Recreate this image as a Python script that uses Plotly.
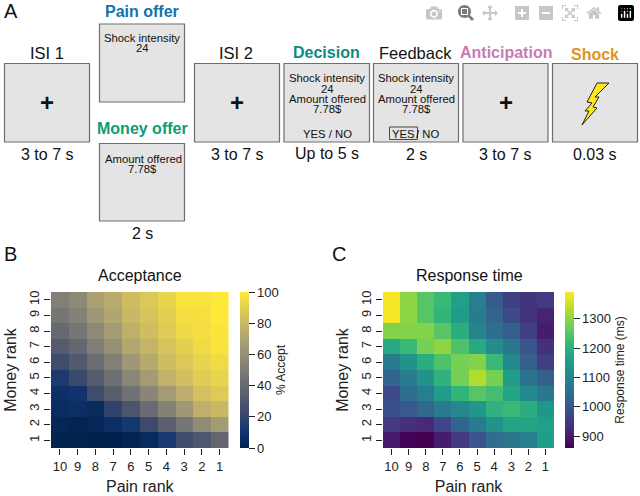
import plotly.graph_objects as go

pain_ranks = ["10", "9", "8", "7", "6", "5", "4", "3", "2", "1"]
money_ranks = ["1", "2", "3", "4", "5", "6", "7", "8", "9", "10"]
acceptance = [
    [1, 1, 0, 0, 2, 5, 13, 24, 30, 39],
    [3, 2, 3, 7, 12, 23, 35, 47, 58, 66],
    [6, 7, 5, 19, 29, 41, 53, 64, 76, 80],
    [8, 10, 24, 34, 45, 55, 66, 75, 84, 88],
    [14, 22, 33, 44, 56, 66, 77, 83, 89, 92],
    [24, 31, 42, 52, 64, 73, 82, 87, 92, 95],
    [32, 39, 51, 60, 72, 78, 85, 90, 95, 98],
    [40, 47, 57, 66, 76, 82, 88, 94, 96, 99],
    [47, 53, 64, 71, 80, 85, 90, 96, 97, 100],
    [52, 57, 68, 74, 82, 87, 92, 98, 98, 100],
]
response_time = [
    [900, 865, 860, 900, 950, 1000, 1050, 1070, 1090, 1150],
    [950, 930, 920, 970, 1030, 1080, 1130, 1170, 1170, 1160],
    [990, 1010, 1040, 1080, 1110, 1140, 1200, 1220, 1190, 1140],
    [980, 1050, 1090, 1150, 1210, 1250, 1230, 1170, 1110, 1070],
    [1030, 1080, 1130, 1200, 1280, 1330, 1280, 1150, 1060, 1020],
    [1080, 1130, 1190, 1240, 1280, 1290, 1220, 1110, 1020, 960],
    [1180, 1220, 1280, 1300, 1240, 1180, 1120, 1070, 1000, 930],
    [1290, 1290, 1290, 1250, 1190, 1100, 1050, 1020, 960, 900],
    [1385, 1300, 1250, 1210, 1150, 1080, 1030, 980, 940, 910],
    [1385, 1300, 1250, 1220, 1160, 1090, 1010, 960, 940, 950],
]
accept_ticks = [0, 20, 40, 60, 80, 100]
rt_ticks = [900, 1000, 1100, 1200, 1300]

W, H = 640, 496
FONT = "Liberation Sans"
px = lambda v: v / W
py = lambda v: 1 - v / H

fig = go.Figure()


def add_heat(z, xa, ya, zmin, zmax, scale, ticks, bar_left, bar_title):
    fig.add_trace(go.Heatmap(
        z=z, x=pain_ranks, y=money_ranks, xaxis=xa, yaxis=ya,
        zmin=zmin, zmax=zmax, colorscale=scale,
        colorbar=dict(
            x=px(bar_left), xanchor="left",
            y=py(448), yanchor="bottom",
            len=156, lenmode="pixels", thickness=8.5, thicknessmode="pixels",
            outlinewidth=0, xpad=0, ypad=0,
            tickmode="array", tickvals=ticks, ticks="outside", ticklen=6, tickwidth=1, tickcolor="#222",
            tickfont=dict(family=FONT, size=13, color="#222"),
            title=dict(text=bar_title, side="right",
                       font=dict(family=FONT, size=12, color="#222")),
        ),
    ))


add_heat(acceptance, "x", "y", 0, 100, "Cividis", accept_ticks, 239.5, "% Accept")
add_heat(response_time, "x2", "y2", 859, 1392, "Viridis", rt_ticks, 565, "Response time (ms)")

axis_common = dict(
    type="category", showgrid=False, zeroline=False, showline=False, automargin=False,
    ticks="outside", ticklen=6, tickwidth=1, tickcolor="#222", tickmode="linear", dtick=1, tick0=0,
    tickfont=dict(family=FONT, size=13, color="#222"),
)
title_font = dict(family=FONT, size=16, color="#222")
fig.update_layout(
    width=W, height=H, autosize=False,
    margin=dict(l=0, r=0, t=0, b=0, autoexpand=False),
    paper_bgcolor="white", plot_bgcolor="white", showlegend=False,
    xaxis=dict(domain=[px(51), px(228.5)], anchor="y", title=dict(text="Pain rank", font=title_font, standoff=8), **axis_common),
    yaxis=dict(domain=[py(448), py(292)], anchor="x", tickangle=-90, title=dict(text="Money rank", font=title_font, standoff=6), **axis_common),
    xaxis2=dict(domain=[px(383), px(554)], anchor="y2", title=dict(text="Pain rank", font=title_font, standoff=8), **axis_common),
    yaxis2=dict(domain=[py(448), py(292)], anchor="x2", tickangle=-90, title=dict(text="Money rank", font=title_font, standoff=6), **axis_common),
)

# --- Panel A: task timeline ---
BOX_FILL, BOX_LINE = "#e4e4e4", "#6e6e6e"
boxes = [(4.5, 63.5, 89.5, 142), (99.5, 24, 184.5, 102), (99.5, 143.5, 184.5, 221),
         (194.5, 63.5, 279.5, 142), (284, 63.5, 369.5, 142), (373.5, 63.5, 458.5, 142),
         (463, 63.5, 548, 142), (552.5, 63.5, 637.5, 142)]
shapes = [dict(type="rect", xref="paper", yref="paper", x0=px(a), x1=px(c), y0=py(d), y1=py(b),
               fillcolor=BOX_FILL, line=dict(color=BOX_LINE, width=1.2)) for a, b, c, d in boxes]
# YES outline
shapes.append(dict(type="rect", xref="paper", yref="paper", x0=px(389.5), x1=px(417.5), y0=py(139.5), y1=py(127),
                   fillcolor="rgba(0,0,0,0)", line=dict(color="#444", width=1)))
# Lightning bolt
bolt = [(597, 83), (609, 83), (595, 97), (599, 97), (593, 107), (597, 108), (582, 125),
        (589, 111), (585, 111), (592, 103), (587, 102)]
path = "M " + " L ".join(f"{px(x):.5f},{py(y):.5f}" for x, y in bolt) + " Z"
shapes.append(dict(type="path", xref="paper", yref="paper", path=path, fillcolor="#ffe81c",
                   line=dict(color="#222", width=1)))
fig.update_layout(shapes=shapes)


def text(t, x, y, size, color="#111", bold=False, font=FONT):
    fig.add_annotation(xref="paper", yref="paper", x=px(x), y=py(y), text=f"<b>{t}</b>" if bold else t,
                       showarrow=False, xanchor="center", yanchor="middle", align="center",
                       font=dict(family=font, size=size, color=color), borderpad=0, borderwidth=0)


# panel letters
text("A", 11, 11, 20)
text("B", 10, 254, 20)
text("C", 339, 254, 20)
# chart titles
text("Acceptance", 140, 275, 16)
text("Response time", 469, 275, 16)
# stage titles
text("ISI 1", 47, 53, 16.5)
text("Pain offer", 142, 12, 16, "#1273a8", True)
text("Money offer", 142, 129, 16, "#0d9c74", True)
text("ISI 2", 235.5, 53, 16.5)
text("Decision", 326, 53, 16, "#0f8a80", True)
text("Feedback", 415.5, 53, 16.5)
text("Anticipation", 505.5, 53, 16, "#c97ab5", True)
text("Shock", 594.5, 55, 16, "#de9422", True)
# durations
text("3 to 7 s", 47, 154, 16)
text("2 s", 142, 233, 16)
text("3 to 7 s", 237, 154, 16)
text("Up to 5 s", 327, 153, 16)
text("2 s", 416, 154, 16)
text("3 to 7 s", 505, 154, 16)
text("0.03 s", 595, 154, 16)
# fixation crosses
for cx in (47, 237, 505.5):
    text("+", cx, 102, 24, "#111", True)
# stimulus text
S = 11.3
text("Shock intensity", 142, 38, S)
text("24", 142, 48, S)
text("Amount offered", 143, 158.5, S)
text("7.78$", 142, 169, S)
for cx in (327, 416):
    text("Shock intensity", cx, 78.5, S)
    text("24", cx, 89, S)
    text("Amount offered", cx, 99, S)
    text("7.78$", cx, 109.5, S)
text("YES / NO", 327, 133.5, S)
text("YES", 403.5, 133.5, S)
text("/ NO", 427, 133.5, S)

fig.write_html("out.html", post_script="document.body.style.margin='0';")
